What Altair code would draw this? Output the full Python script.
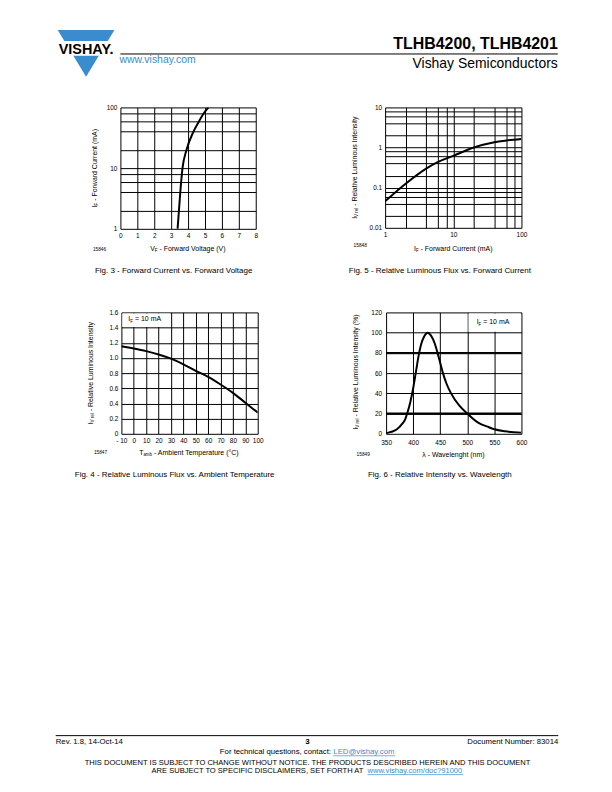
import altair as alt
import pandas as pd

# ---------------- data ----------------
# Fig. 3 - forward current vs forward voltage
fig3_voltage = [3.38, 3.46, 3.54, 3.67, 3.91, 4.32, 4.66, 4.93, 5.2]
fig3_current = [1, 2, 4, 10, 20, 40, 60, 80, 100]
fig3_x_ticks = [0, 1, 2, 3, 4, 5, 6, 7, 8]
fig3_y_grid = [1, 2, 4, 6, 8, 10, 20, 40, 60, 80, 100]
fig3_y_labels = [1, 10, 100]

# Fig. 5 - relative luminous flux vs forward current
fig5_current = [1, 2, 4, 6, 10, 20, 40, 60, 100]
fig5_rel = [0.046, 0.126, 0.3, 0.44, 0.62, 1.0, 1.36, 1.5, 1.64]
fig5_x_grid = [1, 2, 4, 6, 8, 10, 20, 40, 60, 80, 100]
fig5_x_labels = [1, 10, 100]
fig5_y_grid = [0.01, 0.02, 0.04, 0.06, 0.08, 0.1, 0.2, 0.4, 0.6, 0.8, 1, 2, 4, 6, 8, 10]
fig5_y_labels = [0.01, 0.1, 1, 10]

# Fig. 4 - relative luminous flux vs ambient temperature
fig4_temp = [-10, 0, 10, 20, 30, 40, 50, 60, 70, 80, 90, 100]
fig4_rel = [1.155, 1.125, 1.09, 1.046, 0.99, 0.915, 0.83, 0.75, 0.65, 0.54, 0.41, 0.28]
fig4_x_ticks = [-10, 0, 10, 20, 30, 40, 50, 60, 70, 80, 90, 100]
fig4_y_ticks = [0, 0.2, 0.4, 0.6, 0.8, 1.0, 1.2, 1.4, 1.6]

# Fig. 6 - relative intensity vs wavelength
fig6_wavelength = [350, 360, 370, 380, 385, 390, 395, 400, 405, 410, 415, 420, 427, 433,
                   440, 445, 450, 455, 462, 470, 485, 500, 520, 540, 550, 570, 600]
fig6_rel = [0.5, 2, 4.5, 10, 14, 22, 32, 45, 61, 77, 89, 96, 100, 97,
            89, 80, 70, 60, 49, 40, 28, 20, 11, 6.5, 4.5, 2.5, 1]
fig6_x_ticks = [350, 400, 450, 500, 550, 600]
fig6_y_ticks = [0, 20, 40, 60, 80, 100, 120]
fig6_bold_grid = [20, 80]

# ---------------- helpers ----------------
FONT = "Liberation Sans"
BLUE = "#3a8cce"
ONE = alt.Data(values=[{"k": 0}])

AW = {' ': 278, '!': 278, '(': 333, ')': 333, ',': 278, '-': 333, '.': 278, '/': 278,
      ':': 278, '=': 584, '?': 556, '@': 1015, '°': 400, 'λ': 556,
      'A': 667, 'B': 667, 'C': 722, 'D': 722, 'E': 667, 'F': 611, 'G': 778, 'H': 722,
      'I': 278, 'J': 500, 'K': 667, 'L': 556, 'M': 833, 'N': 722, 'O': 778, 'P': 667,
      'Q': 778, 'R': 722, 'S': 667, 'T': 611, 'U': 722, 'V': 667, 'W': 944, 'X': 667,
      'Y': 667, 'Z': 611,
      'a': 556, 'b': 556, 'c': 500, 'd': 556, 'e': 556, 'f': 278, 'g': 556, 'h': 556,
      'i': 222, 'j': 222, 'k': 500, 'l': 222, 'm': 833, 'n': 556, 'o': 556, 'p': 556,
      'q': 556, 'r': 333, 's': 500, 't': 278, 'u': 556, 'v': 500, 'w': 722, 'x': 500,
      'y': 500, 'z': 500}
for _d in "0123456789":
    AW[_d] = 556


def tw(s, size):
    return sum(AW.get(c, 556) for c in s) * size / 1000.0


def txt(s, x, y, size=7.0, align="center", angle=None, color="black",
        weight="normal", baseline="middle"):
    props = dict(text=s, font=FONT, fontSize=size, align=align, baseline=baseline,
                 color=color, fontWeight=weight)
    if angle is not None:
        props["angle"] = angle
    return alt.Chart(ONE).mark_text(**props).encode(x=alt.value(x), y=alt.value(y))


SUB = 0.64


def rich_h(parts, x, y, size, align="center"):
    sizes = [size * SUB if sb else size for _, sb in parts]
    widths = [tw(p, s) for (p, _), s in zip(parts, sizes)]
    total = sum(widths)
    cur = x - total / 2 if align == "center" else x
    out = []
    for (p, sb), s, w in zip(parts, sizes, widths):
        lead = len(p) - len(p.lstrip(" "))
        body = p.strip(" ")
        if body:
            out.append(txt(body, cur + tw(" " * lead, s), y + (0.32 * size if sb else 0),
                           s, align="left"))
        cur += w
    return out


def rich_v(parts, x, cy, size):
    sizes = [size * SUB if sb else size for _, sb in parts]
    widths = [tw(p, s) for (p, _), s in zip(parts, sizes)]
    total = sum(widths)
    cur = cy + total / 2
    out = []
    for (p, sb), s, w in zip(parts, sizes, widths):
        lead = len(p) - len(p.lstrip(" "))
        body = p.strip(" ")
        if body:
            out.append(txt(body, x + (0.32 * size if sb else 0), cur - tw(" " * lead, s),
                           s, align="left", angle=270))
        cur -= w
    return out


def link_line(parts, cx, y, size):
    widths = [tw(p, size) for p, _ in parts]
    cur = cx - sum(widths) / 2
    out = []
    for (p, is_link), w in zip(parts, widths):
        out.append(txt(p.rstrip(" "), cur, y, size, align="left",
                       color=BLUE if is_link else "black"))
        if is_link:
            out.append(alt.Chart(ONE).mark_rule(color=BLUE, strokeWidth=0.7).encode(
                x=alt.value(cur), x2=alt.value(cur + w), y=alt.value(y + 0.3 * size + 1.2)))
        cur += w
    return out


def axis(values, label_expr=None, pad=3.5):
    kw = dict(values=values, grid=True, gridColor="black", gridWidth=1, gridOpacity=1,
              domain=False, ticks=False, labelFont=FONT, labelFontSize=6.5,
              labelColor="black", labelPadding=pad, labelFlush=False,
              labelOverlap=False, title=None)
    if label_expr:
        kw["labelExpr"] = label_expr
    return alt.Axis(**kw)


def decade_expr(labels):
    return "indexof([" + ",".join(str(v) for v in labels) + "], datum.value) >= 0 ? format(datum.value, '~g') : ''"


def curve(df, xcol, ycol, xscale, yscale, xaxis, yaxis):
    return alt.Chart(df).mark_line(color="black", strokeWidth=2, interpolate="monotone",
                                   clip=True).encode(
        x=alt.X(f"{xcol}:Q", scale=xscale, axis=xaxis),
        y=alt.Y(f"{ycol}:Q", scale=yscale, axis=yaxis))


def spacer(w, h):
    return alt.Chart(ONE).mark_point(opacity=0).encode(
        x=alt.value(0), y=alt.value(0)).properties(width=w, height=h)


def white_box(x1, x2, y1, y2):
    return alt.Chart(ONE).mark_rect(color="white").encode(
        x=alt.value(x1), x2=alt.value(x2), y=alt.value(y1), y2=alt.value(y2))


# ---------------- panels ----------------
df3 = pd.DataFrame({"volt": fig3_voltage, "amp": fig3_current})
fig3 = alt.layer(
    curve(df3, "volt", "amp",
          alt.Scale(domain=[0, 8], nice=False, zero=False),
          alt.Scale(type="log", domain=[1, 100], nice=False),
          axis(fig3_x_ticks), axis(fig3_y_grid, decade_expr(fig3_y_labels))),
    *rich_v([("I", False), ("F", True), (" - Forward Current (mA)", False)], -25.5, 61, 7),
    *rich_h([("V", False), ("F", True), (" - Forward Voltage (V)", False)], 68, 142.5, 7),
    txt("15846", -21, 143, 4.8),
).properties(width=136, height=122)

df5 = pd.DataFrame({"amp": fig5_current, "rel": fig5_rel})
fig5 = alt.layer(
    curve(df5, "amp", "rel",
          alt.Scale(type="log", domain=[1, 100], nice=False),
          alt.Scale(type="log", domain=[0.01, 10], nice=False),
          axis(fig5_x_grid, decade_expr(fig5_x_labels)),
          axis(fig5_y_grid, decade_expr(fig5_y_labels))),
    *rich_v([("I", False), ("V rel", True), (" - Relative Luminous Intensity", False)], -30.5, 60.5, 7),
    *rich_h([("I", False), ("F", True), (" - Forward Current (mA)", False)], 68.5, 142, 7),
    txt("15848", -25, 139, 4.8),
).properties(width=137, height=121)

df4 = pd.DataFrame({"temp": fig4_temp, "rel": fig4_rel})
fig4 = alt.layer(
    curve(df4, "temp", "rel",
          alt.Scale(domain=[-10, 100], nice=False, zero=False),
          alt.Scale(domain=[0, 1.6], nice=False),
          axis(fig4_x_ticks, "datum.value < 0 ? '- ' + format(-datum.value, 'd') : format(datum.value, 'd')"),
          axis(fig4_y_ticks, "datum.value == 0 ? '0' : format(datum.value, '.1f')")),
    white_box(1, 48.8, 1, 14.6),
    *rich_h([("I", False), ("F", True), (" = 10 mA", False)], 7, 7, 7, align="left"),
    *rich_v([("I", False), ("V rel", True), (" - Relative Luminous Intensity", False)], -31, 61, 7),
    *rich_h([("T", False), ("amb", True), (" - Ambient Temperature (°C)", False)], 68.5, 141, 7),
    txt("15847", -21, 141, 4.8),
).properties(width=137, height=122)

df6 = pd.DataFrame({"nm": fig6_wavelength, "rel": fig6_rel})
df6b = pd.DataFrame({"rel": fig6_bold_grid})
x6 = alt.Scale(domain=[350, 600], nice=False, zero=False)
y6 = alt.Scale(domain=[0, 120], nice=False)
y6_axis = axis(fig6_y_ticks, pad=4.5)
fig6 = alt.layer(
    curve(df6, "nm", "rel", x6, y6, axis(fig6_x_ticks, pad=5.5), y6_axis),
    alt.Chart(df6b).mark_rule(color="black", strokeWidth=2).encode(
        y=alt.Y("rel:Q", scale=y6, axis=y6_axis)),
    white_box(82.8, 135, 1, 19.4),
    *rich_h([("I", False), ("F", True), (" = 10 mA", False)], 91, 10, 7, align="left"),
    *rich_v([("I", False), ("V rel", True), (" - Relative Luminous Intensity (%)", False)], -30.5, 61, 7),
    *rich_h([("λ - Wavelenght (nm)", False)], 68, 143, 7),
    txt("15849", -23, 143.5, 4.8),
).properties(width=136, height=122)

# ---------------- page parts ----------------
# (nested rows take no height in the flush layout, so the text strips below
#  include the rows' height; y values given in page pixels minus strip origin)
header = alt.layer(
    alt.Chart(ONE).mark_point(shape="M-1,-0.82L1,-0.82L0,0.82Z", filled=True, color=BLUE,
                              opacity=1, size=3249, strokeWidth=0).encode(
        x=alt.value(83.5), y=alt.value(51.7)),
    white_box(50, 117, 39.2, 54.2),
    txt("VISHAY.", 83.5, 52, 14.5, weight="bold", baseline="alphabetic"),
    alt.Chart(ONE).mark_rule(color="black", strokeWidth=1).encode(
        x=alt.value(118), x2=alt.value(557.5), y=alt.value(52.3)),
    txt("TLHB4200, TLHB4201", 557.5, 47, 16, align="right", weight="bold", baseline="alphabetic"),
    txt("www.vishay.com", 117, 61.5, 10.5, align="left", color=BLUE, baseline="alphabetic"),
    txt("Vishay Semiconductors", 557.5, 66.5, 14, align="right", baseline="alphabetic"),
).properties(width=612, height=106)

row1 = alt.hconcat(spacer(118, 122), fig3, spacer(130, 122), fig5, spacer(91, 122),
                   spacing=0, bounds="flush")

M0 = 106  # page y of the middle strip
mid = alt.layer(
    txt("Fig. 3 - Forward Current vs. Forward Voltage", 171.5, 270.7 - M0, 8),
    txt("Fig. 5 - Relative Luminous Flux vs. Forward Current", 439, 270.7 - M0, 8),
).properties(width=612, height=206)

row2 = alt.hconcat(spacer(119, 122), fig4, spacer(129, 122), fig6, spacer(91, 122),
                   spacing=0, bounds="flush")

B0 = 312  # page y of the bottom strip
bottom = alt.layer(
    txt("Fig. 4 - Relative Luminous Flux vs. Ambient Temperature", 172.5, 475.7 - B0, 8),
    txt("Fig. 6 - Relative Intensity vs. Wavelength", 439, 475.7 - B0, 8),
    alt.Chart(ONE).mark_rule(color="black", strokeWidth=1).encode(
        x=alt.value(53), x2=alt.value(558), y=alt.value(737.3 - B0)),
    txt("Rev. 1.8, 14-Oct-14", 53, 743.3 - B0, 7.8, align="left"),
    txt("3", 306, 743.8 - B0, 8, weight="bold"),
    txt("Document Number: 83014", 558, 743.3 - B0, 7.8, align="right"),
    *link_line([("For technical questions, contact: ", False), ("LED@vishay.com", True)],
               306, 754 - B0, 7.8),
    txt("THIS DOCUMENT IS SUBJECT TO CHANGE WITHOUT NOTICE. THE PRODUCTS DESCRIBED HEREIN AND THIS DOCUMENT",
        306, 765 - B0, 7.6),
    *link_line([("ARE SUBJECT TO SPECIFIC DISCLAIMERS, SET FORTH AT ", False),
                ("www.vishay.com/doc?91000", True)], 306, 773 - B0, 7.6),
).properties(width=612, height=480)

chart = alt.vconcat(header, row1, mid, row2, bottom, spacing=0, bounds="flush").properties(
    padding=0, background="white"
).configure_view(stroke=None)

chart.save("out.html", embed_options={"renderer": "svg", "actions": False})
